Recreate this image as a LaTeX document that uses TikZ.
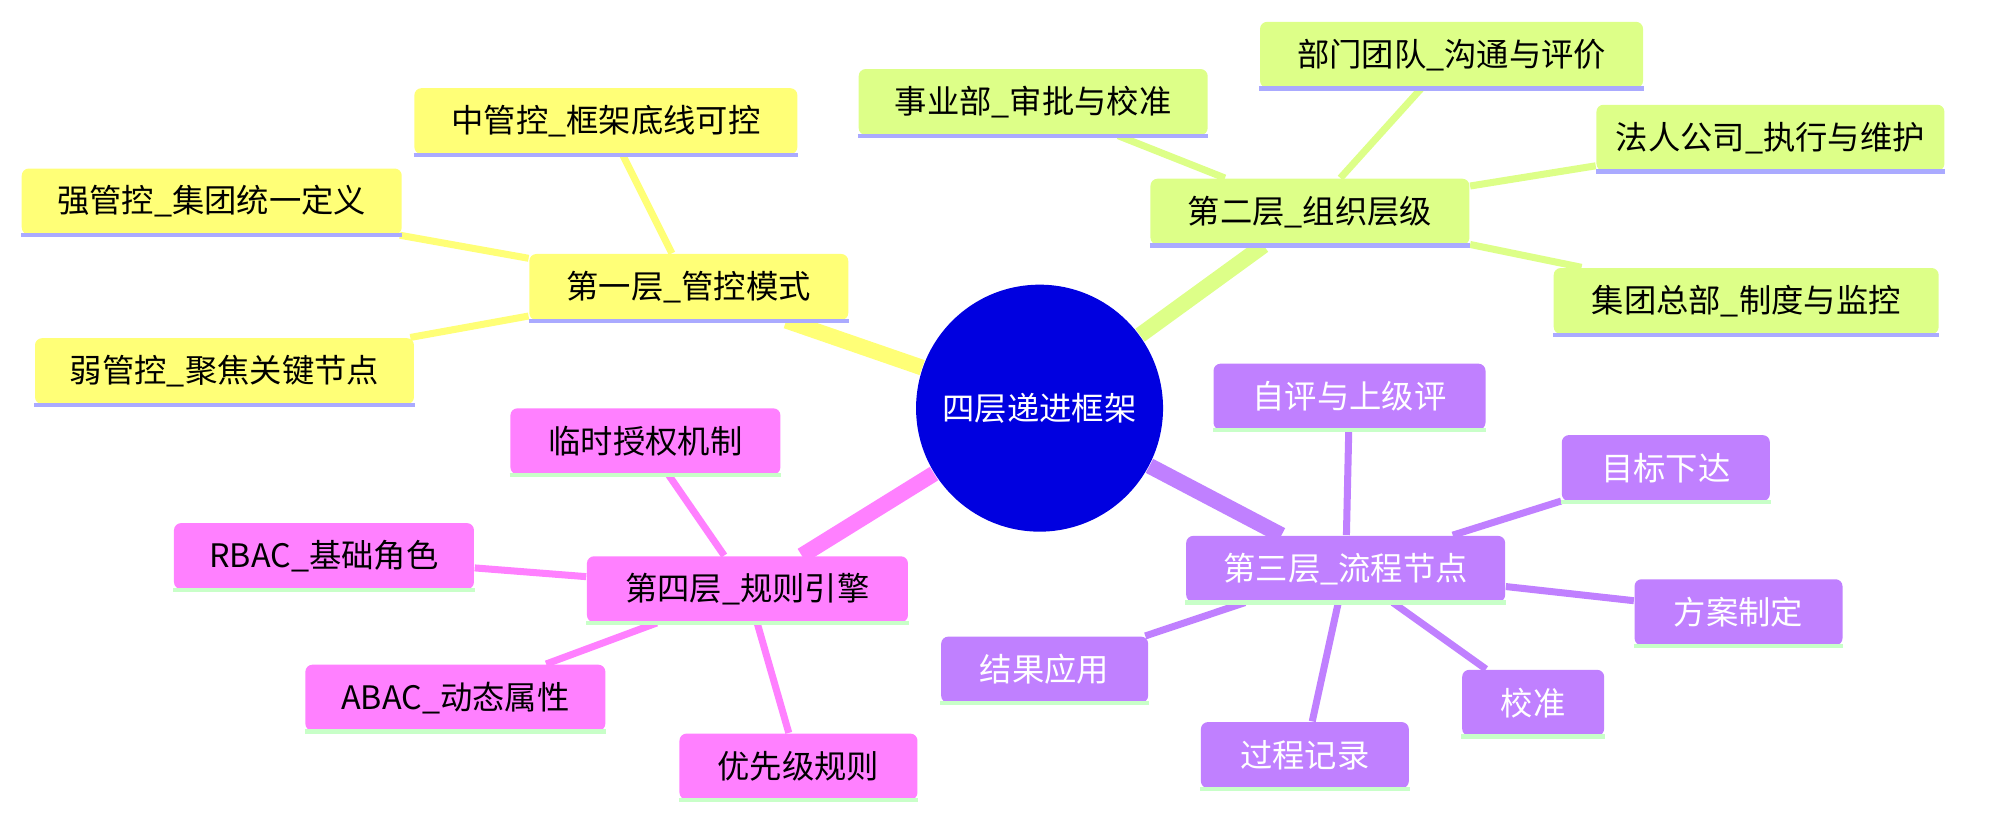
\documentclass[tikz,border=0pt]{standalone}
\usepackage{fontspec}
\setmainfont{Noto Sans CJK SC}
\usetikzlibrary{backgrounds}
\definecolor{ylw}{HTML}{FFFF77}
\definecolor{grn}{HTML}{DDFF88}
\definecolor{prp}{HTML}{C080FF}
\definecolor{pnk}{HTML}{FF80FF}
\definecolor{lav}{HTML}{AAAAFF}
\definecolor{mnt}{HTML}{C8FFC8}
\definecolor{core}{HTML}{0000E0}
\tikzset{
  topic/.style={rounded corners=2pt, minimum height=0.66cm, inner sep=0pt, font=\fontsize{9.2}{11}\selectfont},
  ylwbox/.style={topic, fill=ylw},
  grnbox/.style={topic, fill=grn},
  prpbox/.style={topic, fill=prp, text=white},
  pnkbox/.style={topic, fill=pnk},
  trunk/.style={line width=4.5pt},
  twig/.style={line width=2pt},
  ul/.style={line width=1.2pt}
}
\begin{document}
\begin{tikzpicture}[x=0.01275cm, y=-0.01275cm]
\useasboundingbox (0,0) rectangle (1568,643);
\node[circle, fill=core, text=white, minimum size=2.47cm, inner sep=0pt, font=\fontsize{9.2}{11}\selectfont] (root) at (815,320) {四层递进框架};
% layer one
\node[ylwbox, minimum width=3.19cm] (mode) at (540,225) {第一层\_管控模式};
\node[ylwbox, minimum width=3.83cm] (mid) at (475,95) {中管控\_框架底线可控};
\node[ylwbox, minimum width=3.80cm] (strong) at (166,158) {强管控\_集团统一定义};
\node[ylwbox, minimum width=3.79cm] (weak) at (176,291) {弱管控\_聚焦关键节点};
% layer two
\node[grnbox, minimum width=3.19cm] (org) at (1027,166) {第二层\_组织层级};
\node[grnbox, minimum width=3.49cm] (bu) at (810,80) {事业部\_审批与校准};
\node[grnbox, minimum width=3.83cm] (team) at (1138,43) {部门团队\_沟通与评价};
\node[grnbox, minimum width=3.48cm] (legal) at (1388,108) {法人公司\_执行与维护};
\node[grnbox, minimum width=3.85cm] (hq) at (1369,236) {集团总部\_制度与监控};
% layer three
\node[prpbox, minimum width=3.19cm] (flow) at (1055,446) {第三层\_流程节点};
\node[prpbox, minimum width=2.72cm] (self) at (1058,311) {自评与上级评};
\node[prpbox, minimum width=2.08cm] (goal) at (1306,367) {目标下达};
\node[prpbox, minimum width=2.08cm] (plan) at (1363,480) {方案制定};
\node[prpbox, minimum width=1.42cm] (calib) at (1202,551) {校准};
\node[prpbox, minimum width=2.08cm] (log) at (1023,592) {过程记录};
\node[prpbox, minimum width=2.07cm] (use) at (819,525) {结果应用};
% layer four
\node[pnkbox, minimum width=3.21cm] (rule) at (586,462) {第四层\_规则引擎};
\node[pnkbox, minimum width=2.70cm] (temp) at (506,346) {临时授权机制};
\node[pnkbox, minimum width=3.00cm] (rbac) at (254,436) {RBAC\_基础角色};
\node[pnkbox, minimum width=3.00cm] (abac) at (357,547) {ABAC\_动态属性};
\node[pnkbox, minimum width=2.38cm] (prio) at (626,601) {优先级规则};
\foreach \n in {mode,mid,strong,weak,org,bu,team,legal,hq}
  \draw[ul, lav] (\n.south west) -- (\n.south east);
\foreach \n in {flow,self,goal,plan,calib,log,use,rule,temp,rbac,abac,prio}
  \draw[ul, mnt] (\n.south west) -- (\n.south east);
\begin{scope}[on background layer]
\draw[trunk, ylw] (root) -- (mode);
\draw[trunk, grn] (root) -- (org);
\draw[trunk, prp] (root) -- (flow);
\draw[trunk, pnk] (root) -- (rule);
\foreach \n in {mid,strong,weak} \draw[twig, ylw] (mode) -- (\n);
\foreach \n in {bu,team,legal,hq} \draw[twig, grn] (org) -- (\n);
\foreach \n in {self,goal,plan,calib,log,use} \draw[twig, prp] (flow) -- (\n);
\foreach \n in {temp,rbac,abac,prio} \draw[twig, pnk] (rule) -- (\n);
\end{scope}
\end{tikzpicture}
\end{document}
